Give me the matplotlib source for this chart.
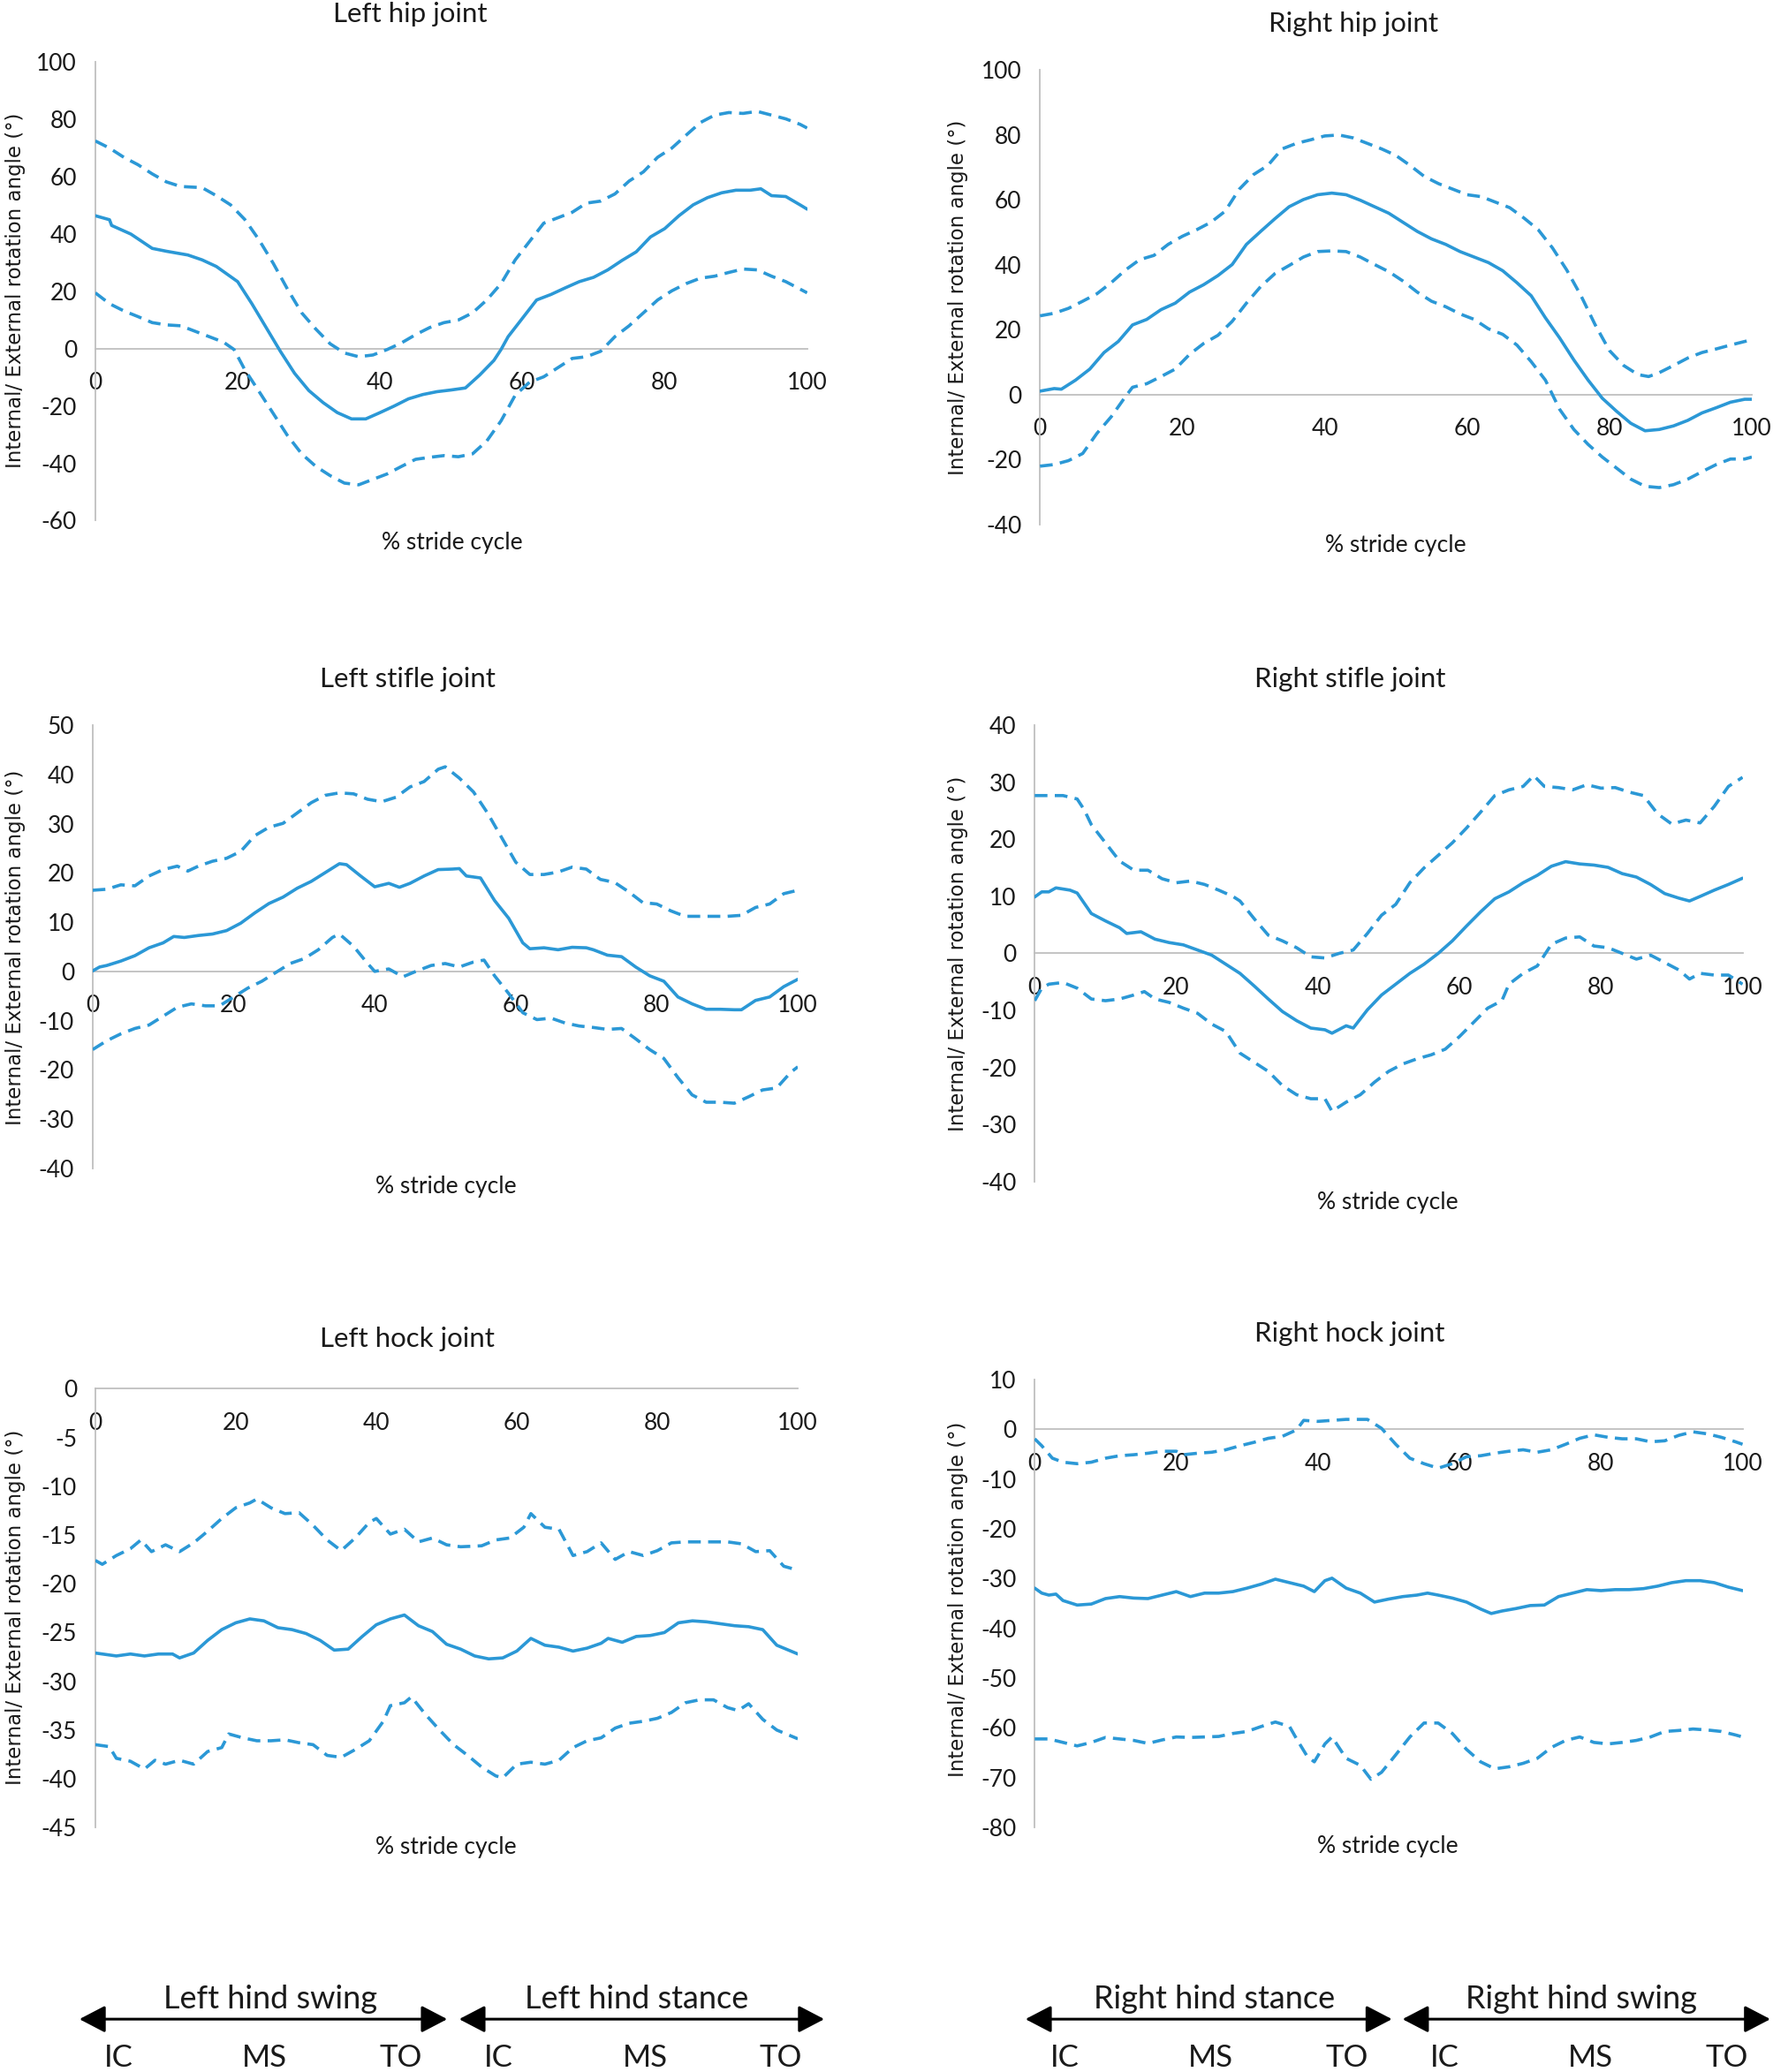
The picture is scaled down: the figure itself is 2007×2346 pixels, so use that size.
import matplotlib
matplotlib.use("Agg")
import matplotlib.pyplot as plt
import numpy as np

# ---------------- DATA ----------------
# Left hip joint
lhip_mean_x = [0,2,2.3,5,8,10,13,15,17,20,22,24,26,28,30,32,34,36,38,40,42,44,46,48,50,52,54,56,57,58,60,62,64,66,68,70,72,74,76,78,80,82,84,86,88,90,92,93.5,95,97,99,100]
lhip_mean_y = [46.4,45,43,40,35,34,32.7,31,28.7,23.4,15.7,7.4,-0.9,-8.6,-14.6,-18.8,-22.3,-24.5,-24.5,-22.3,-20,-17.5,-16,-15,-14.4,-13.7,-9.2,-4.1,-0.3,4.2,10.6,17,18.9,21.2,23.4,24.9,27.5,30.8,33.8,39,41.9,46.4,50.2,52.7,54.4,55.3,55.3,55.8,53.4,53.1,50.2,48.7]
lhip_up_x = [0,2,4,6,8,10,12,15,17,19,21,23,25,27,29,31,33,35,37,39,41,43,45,47,49,51,53,55,57,59,61,63,65,67,69,71,73,75,77,79,81,83,85,87,89,91,93,95,97,99,100]
lhip_up_y = [72.5,70,66.8,64.2,61,58.2,56.6,56.2,53.4,50.2,45.1,38,29.8,20.8,12.5,6.8,1.7,-1.5,-2.8,-2.2,-0.3,2,4.9,7.4,9.1,10,12.5,17,22.7,31,37.4,43.8,45.7,47.6,50.8,51.5,54,58.5,61.7,66.8,70,74.5,78.9,81.5,82.4,82.1,82.8,81.5,80.2,78.3,77]
lhip_lo_x = [0,2,4,6,8,10,12,14,16,18,19.5,21,23,25,27,29,31,33,35,37,39,41,43,45,47,49,51,53,55,57,59,61,63,65,67,69,71,73,75,77,79,81,83,85,87,89,91,93,95,97,99,100]
lhip_lo_y = [19.5,15.7,13.2,11.2,9.1,8.3,8,6.1,4.2,2.3,-0.3,-7.3,-14.9,-22.6,-30.3,-36.7,-41.1,-44.3,-46.9,-47.5,-45.6,-43.7,-41.1,-38.6,-37.9,-37.3,-37.7,-36.7,-32.2,-25.2,-16.2,-11.7,-9.8,-6.6,-3.4,-2.8,-0.9,4.2,8,12.5,17,20.2,22.7,24.6,25.3,26.6,27.8,27.5,25.3,23.4,20.8,19.5]

# Right hip joint
rhip_mean_x = [0,2,3,5,7,9,11,13,15,17,19,21,23,25,27,29,31,33,35,37,39,41,43,45,47,49,51,53,55,57,59,61,63,65,67,69,71,73,75,77,79,81,83,85,87,89,91,93,95,97,99,100]
rhip_mean_y = [1.1,1.9,1.7,4.5,7.9,13,16.4,21.5,23.2,26.2,28.2,31.6,33.9,36.7,40.1,46.3,50.3,54.2,57.9,60.1,61.6,62.1,61.6,59.9,57.9,55.9,53.1,50.3,48,46.3,44.1,42.4,40.7,38.2,34.5,30.5,23.7,17.5,10.7,4.5,-1.1,-5.1,-8.8,-11.1,-10.7,-9.6,-7.9,-5.6,-4,-2.3,-1.4,-1.4]
rhip_up_x = [0,2,4,6,8,10,12,14,16,18,20,22,24,26,28,30,32,34,36,38,40,42,44,46,48,50,52,54,56,58,60,62,64,66,68,70,72,74,76,78,80,82,84,85.5,87,89,91,93,95,97,99,100]
rhip_up_y = [24.3,25.1,26.6,28.8,31.1,34.5,38.4,41.6,42.9,46.3,48.8,50.8,53.1,56.5,63.3,67.8,70.6,75.7,77.4,78.5,79.7,80,79.1,77.4,75.7,73.7,70.6,67.2,65,63.3,61.6,61,59.3,57.6,54.4,50.8,45.2,38.4,30.5,21.5,13.6,9,6.2,5.6,6.8,9,11.3,13,14.1,15.3,16.4,16.9]
rhip_lo_x = [0,2,4,6,8,10,12,13,15,17,19,21,23,25,27,29,31,33,35,37,39,41,43,45,47,49,51,53,55,57,59,61,63,65,67,69,71,73,75,77,79,81,83,85,87,89,91,93,95,97,99,100]
rhip_lo_y = [-22,-21.5,-20.3,-18.1,-11.9,-6.8,-0.6,2.3,3.4,5.6,7.9,12.4,15.8,18.3,22.6,28.2,33.3,37.3,39.8,42.4,44.1,44.3,44.1,42.4,40.1,37.9,35,31.6,28.8,27.1,24.9,23.2,20.3,18.6,15.3,10.2,4.5,-4.5,-10.7,-15.3,-19.2,-22.6,-26,-28.2,-28.6,-27.7,-26,-23.7,-21.5,-19.8,-19.8,-19.2]

# Left stifle joint
lsti_mean_x = [0,1,2,4,6,8,10,11.5,13,15,17,19,21,23,25,27,29,31,33,35,36,38,40,42,43.5,45,47,49,51,52,53,55,57,59,61,62,64,66,68,70,71,73,75,77,79,81,83,85,87,89,91,92,94,96,98,100]
lsti_mean_y = [0.1,0.9,1.2,2.1,3.2,4.8,5.8,7.1,6.9,7.3,7.6,8.3,9.8,11.9,13.8,15.1,16.9,18.3,20.1,21.9,21.7,19.4,17.2,17.9,17.1,17.9,19.4,20.7,20.8,20.9,19.4,19,14.4,10.8,5.8,4.6,4.8,4.4,4.9,4.8,4.4,3.3,3,0.9,-0.9,-2,-5.2,-6.6,-7.7,-7.7,-7.8,-7.8,-5.9,-5.2,-3.1,-1.6]
lsti_up_x = [0,2,4,6,8,10,12,13.5,15,17,19,21,23,25,27,29,31,33,35,37,39,41,43,45,47,49,50,52,54,56,58,60,62,64,66,68,70,72,74,76,78,80,82,84,86,88,90,92,94,96,98,100]
lsti_up_y = [16.5,16.7,17.6,17.4,19.4,20.7,21.4,20.4,21.4,22.4,23,24.4,27.6,29.3,30.1,32.2,34.3,35.8,36.3,36.1,35,34.5,35.4,37.5,38.6,41.1,41.6,39.3,36.5,32.2,27.2,22.2,19.7,19.7,20.2,21.2,20.8,18.7,18.1,16.2,14,13.7,12.3,11.2,11.2,11.2,11.2,11.4,13,13.7,15.8,16.5]
lsti_lo_x = [0,2,4,6,8,10,12,14,16,18,20,22,24,26,28,30,32,34,35,37,39,40,42,44,46,48,50,52,54,55.5,57,59,61,63,65,67,69,71,73,75,77,79,81,83,85,87,89,91,93,95,97,99,100]
lsti_lo_y = [-15.9,-14.1,-12.7,-11.6,-10.9,-9.1,-7.3,-6.6,-7,-7,-5.2,-3.4,-2,-0.2,1.6,2.6,4.4,6.9,7.6,5.1,1.6,0,0.5,-1.1,0.1,1.2,1.6,0.9,1.9,2.3,-0.9,-4.5,-8.4,-9.8,-9.5,-10.5,-11.1,-11.4,-11.8,-11.6,-13.7,-15.9,-17.7,-21.6,-25.1,-26.6,-26.6,-26.8,-25.5,-24.1,-23.7,-20.5,-19.4]

# Right stifle joint
rsti_mean_x = [0,1,2,3,5,6,8,10,12,13,15,17,19,21,23,25,27,29,31,33,35,37,39,41,42,44,45,47,49,51,53,55,57,59,61,63,65,67,69,71,73,75,77,79,81,83,85,87,89,91,92.5,94,96,98,100]
rsti_mean_y = [9.9,10.8,10.8,11.5,11.1,10.6,7,5.7,4.5,3.5,3.8,2.5,1.9,1.5,0.6,-0.3,-1.9,-3.5,-5.7,-8,-10.2,-11.8,-13.1,-13.4,-14,-12.7,-13.1,-9.9,-7.3,-5.4,-3.5,-1.9,0,2.2,4.8,7.3,9.6,10.8,12.4,13.7,15.3,16.1,15.7,15.5,15.1,14,13.4,12.1,10.5,9.7,9.2,10,11.1,12.1,13.2]
rsti_up_x = [0,2,4,6,7,8,10,12,14,16,18,20,22,24,26,28,29,31,33,35,37,39,41,43,45,47,49,51,53,55,57,59,61,63,65,67,69,70.5,72,74,76,78,80,82,84,86,88,90,92,94,96,98,100]
rsti_up_y = [27.7,27.7,27.7,27.1,25.2,22.6,19.4,16.2,14.6,14.6,13.1,12.4,12.7,12.1,11.1,10,9.2,6.1,3.2,2.2,1,-0.6,-0.8,0,0.6,3.5,6.7,8.6,12.4,15,17.2,19.4,22,24.8,27.7,28.7,29.3,31.2,29.3,29.1,28.7,29.6,29,29.1,28.3,27.7,24.5,22.7,23.4,22.9,25.8,29.3,30.9]
rsti_lo_x = [0,1,2,4,6,8,10,12,14,15.5,17,19,21,23,25,27,29,31,33,35,37,39,41,42,44,46,48,50,52,54,56,58,60,62,64,66,67,69,71,73,75,77,79,81,83,85,87,89,91,92.5,94,96,98,100]
rsti_lo_y = [-8.3,-6.1,-5.4,-5.1,-6.1,-8,-8.3,-8,-7.3,-6.7,-8,-8.6,-9.6,-10.5,-12.4,-13.7,-17.5,-19.1,-20.7,-23.2,-24.8,-25.5,-25.5,-27.7,-26.1,-24.8,-22.6,-20.7,-19.4,-18.5,-17.8,-16.8,-14.6,-12.1,-9.6,-8.3,-5.4,-3.5,-2.2,1.6,2.7,2.9,1.3,1,0,-1,-0.3,-1.6,-2.9,-4.5,-3.5,-3.8,-3.8,-5.4]

# Left hock joint
lhoc_mean_x = [0,2,3,5,7,9,11,12,14,16,18,20,22,24,26,28,30,32,34,36,38,40,42,44,46,48,50,52,54,56,58,60,62,64,66,68,70,72,73,75,77,79,81,83,85,87,89,91,93,95,97,99,100]
lhoc_mean_y = [-27.1,-27.3,-27.4,-27.2,-27.4,-27.2,-27.2,-27.6,-27.1,-25.8,-24.7,-24,-23.6,-23.8,-24.5,-24.7,-25.1,-25.8,-26.8,-26.7,-25.4,-24.2,-23.6,-23.2,-24.3,-24.9,-26.2,-26.7,-27.4,-27.7,-27.6,-26.9,-25.6,-26.3,-26.5,-26.9,-26.6,-26.1,-25.6,-26,-25.4,-25.3,-25,-24,-23.8,-23.9,-24.1,-24.3,-24.4,-24.7,-26.3,-26.9,-27.2]
lhoc_up_x = [0,1,3,5,6.5,8,10,12,14,16,18,20,22,23,25,27,29,31,33,35,37,39,40,42,44,46,48,50,52,55,57,59,61,62,64,66,68,70,72,74,76,78,80,82,84,86,88,90,92,94,96,98,100]
lhoc_up_y = [-17.6,-18,-17.1,-16.4,-15.5,-16.7,-16,-16.7,-15.8,-14.6,-13.3,-12.2,-11.7,-11.3,-12.2,-12.8,-12.7,-14,-15.5,-16.6,-15.3,-13.7,-13.3,-14.9,-14.4,-15.7,-15.3,-16,-16.2,-16.1,-15.5,-15.3,-14.2,-12.8,-14.2,-14.4,-17.1,-16.7,-15.8,-17.5,-16.7,-17.1,-16.6,-15.8,-15.7,-15.7,-15.7,-15.7,-15.9,-16.7,-16.6,-18.2,-18.6]
lhoc_lo_x = [0,2,3,5,7,8.5,10,12,14,16,18,19,21,23,25,27,29,31,33,35,37,39,41,42,44,45,47,49,51,53,55,57,58,60,62,64,66,68,70,72,74,76,78,80,82,84,86,88,90,91.5,93,95,97,99,100]
lhoc_lo_y = [-36.5,-36.7,-37.9,-38.2,-39,-38.1,-38.5,-38.1,-38.5,-37.2,-36.8,-35.4,-35.8,-36.1,-36.1,-36,-36.3,-36.5,-37.6,-37.8,-37,-36.1,-34.1,-32.5,-32.2,-31.6,-33.4,-35,-36.5,-37.6,-38.8,-39.7,-39.9,-38.5,-38.3,-38.5,-38.1,-36.8,-36.1,-35.8,-34.8,-34.3,-34.1,-33.8,-33.2,-32.2,-31.9,-31.9,-32.7,-33,-32.3,-33.9,-35,-35.6,-35.9]

# Right hock joint
rhoc_mean_x = [0,1,2,3,4,6,8,10,12,14,16,18,20,22,24,26,28,30,32,34,36,38,39.5,41,42,44,46,48,50,52,54,55.5,57,59,61,63,64.5,66,68,70,72,74,76,78,80,82,84,86,88,90,92,94,96,98,100]
rhoc_mean_y = [-31.9,-32.9,-33.3,-33.1,-34.4,-35.3,-35.1,-34,-33.6,-33.9,-34,-33.3,-32.6,-33.6,-32.9,-32.9,-32.6,-31.9,-31.1,-30.1,-30.8,-31.5,-32.6,-30.4,-29.9,-31.9,-32.9,-34.7,-34.1,-33.6,-33.3,-32.9,-33.3,-33.9,-34.7,-36.1,-37,-36.5,-36,-35.4,-35.3,-33.6,-32.9,-32.2,-32.4,-32.2,-32.2,-32,-31.5,-30.8,-30.4,-30.4,-30.8,-31.7,-32.4]
rhoc_up_x = [0,1,2.5,4,6,8,10,12,14,16,18,20,21,23,25,27,29,31,33,35,37,38,40,42,44,46,47,49,51,53,55,57,59,61,63,65,67,69,71,73,75,77,79,81,83,85,87,89,91,93,95,97,99,100]
rhoc_up_y = [-1.9,-3.3,-5.8,-6.6,-6.9,-6.6,-5.8,-5.3,-5.1,-4.8,-4.4,-4.4,-5.1,-4.8,-4.6,-4.1,-3.3,-2.6,-1.8,-1.4,-0.1,1.8,1.6,1.8,2,2,2,0.2,-3,-5.8,-6.9,-7.8,-6.9,-5.5,-5.3,-4.8,-4.4,-4.1,-4.6,-4.1,-3,-1.8,-1.1,-1.6,-1.9,-1.9,-2.5,-2.3,-1.2,-0.5,-0.9,-1.6,-2.5,-3]
rhoc_lo_x = [0,2,4,6,8,10,12,14,16,18,20,22,24,26,28,30,32,34,36,37,38.5,39.5,41,42,44,46,47.5,49,51,53,55,57,59,61,63,65,67,69,71,73,75,77,79,81,83,85,87,89,91,93,95,97,99,100]
rhoc_lo_y = [-62.2,-62.2,-62.9,-63.6,-62.9,-61.9,-62.2,-62.5,-63.1,-62.4,-61.8,-61.9,-61.8,-61.7,-61.1,-60.7,-59.7,-58.8,-59.7,-62.2,-65.7,-66.8,-63.2,-61.8,-66.1,-67.5,-70.3,-68.9,-65.4,-61.8,-59,-59,-61.1,-64.3,-66.8,-68.2,-67.8,-67.1,-66.1,-63.9,-62.5,-61.8,-62.9,-63.2,-62.9,-62.5,-61.8,-60.7,-60.5,-60.2,-60.4,-60.7,-61.4,-61.8]

titles = ["Left hip joint", "Right hip joint", "Left stifle joint",
          "Right stifle joint", "Left hock joint", "Right hock joint"]
ylims = [(-60, 100), (-40, 100), (-40, 50), (-40, 40), (-45, 0), (-80, 10)]
ysteps = [20, 20, 10, 10, 5, 10]
xticks = [0, 20, 40, 60, 80, 100]
ylabel_text = "Internal/ External rotation angle (°)"
xlabel_text = "% stride cycle"

phase_labels = ["Left hind swing", "Left hind stance", "Right hind stance", "Right hind swing"]
event_labels = ["IC", "MS", "TO"]

# ---------------- LAYOUT ----------------
W, H = 1340.0, 1568.0  # reference layout units
def fx(x): return x / W
def fy(y): return 1 - y / H

# axes boxes (left, right, top, bottom) in layout units
boxes = [(72, 610, 47, 394), (786, 1324, 53, 397),
         (70, 603, 549, 884), (782, 1317, 549, 894),
         (72, 603, 1051, 1383), (782, 1317, 1044, 1383)]
title_pos = [(310, 11), (1023, 18), (308, 514), (1020, 514), (308, 1013), (1020, 1009)]
xlabel_pos = [(342, 411), (1055, 413), (337, 898), (1049, 910), (337, 1398), (1049, 1397)]
ylabel_pos = [(12, 220), (724, 225), (12, 717), (724, 722), (12, 1216), (724, 1210)]

series = [
    (lhip_mean_x, lhip_mean_y, lhip_up_x, lhip_up_y, lhip_lo_x, lhip_lo_y),
    (rhip_mean_x, rhip_mean_y, rhip_up_x, rhip_up_y, rhip_lo_x, rhip_lo_y),
    (lsti_mean_x, lsti_mean_y, lsti_up_x, lsti_up_y, lsti_lo_x, lsti_lo_y),
    (rsti_mean_x, rsti_mean_y, rsti_up_x, rsti_up_y, rsti_lo_x, rsti_lo_y),
    (lhoc_mean_x, lhoc_mean_y, lhoc_up_x, lhoc_up_y, lhoc_lo_x, lhoc_lo_y),
    (rhoc_mean_x, rhoc_mean_y, rhoc_up_x, rhoc_up_y, rhoc_lo_x, rhoc_lo_y),
]

FONT = ["Lato", "DejaVu Sans"]
plt.rcParams['font.family'] = FONT
plt.rcParams['axes.unicode_minus'] = False
BLUE = "#2B98D6"
GREY = "#BFBFBF"
TXT = "#1a1a1a"

fig = plt.figure(figsize=(20.07, 23.46), dpi=100)
fig.patch.set_facecolor("white")

for i, (l, r, t, b) in enumerate(boxes):
    ax = fig.add_axes([fx(l), fy(b), fx(r) - fx(l), fy(t) - fy(b)])
    mx, my, ux, uy, lx, ly = series[i]
    ax.plot(mx, my, color=BLUE, lw=2.6, solid_capstyle='round', zorder=3)
    ax.plot(ux, uy, color=BLUE, lw=2.6, dashes=(4.0, 2.3), zorder=3)
    ax.plot(lx, ly, color=BLUE, lw=2.6, dashes=(4.0, 2.3), zorder=3)
    lo, hi = ylims[i]
    ax.set_xlim(0, 100)
    ax.set_ylim(lo, hi)
    ax.set_yticks(np.arange(lo, hi + 0.1, ysteps[i]))
    ax.set_xticks(xticks)
    for s in ['top', 'right']:
        ax.spines[s].set_visible(False)
    ax.spines['left'].set_color(GREY)
    ax.spines['left'].set_linewidth(1.3)
    ax.spines['bottom'].set_position(('data', 0))
    ax.spines['bottom'].set_color(GREY)
    ax.spines['bottom'].set_linewidth(1.3)
    ax.tick_params(axis='both', length=0, labelsize=19, colors=TXT)
    ax.tick_params(axis='y', pad=15)
    ax.tick_params(axis='x', pad=19)
    ax.set_facecolor('none')
    for lab in ax.get_xticklabels():
        lab.set_zorder(2)

    tx, ty = title_pos[i]
    fig.text(fx(tx), fy(ty), titles[i], ha='center', va='center', fontsize=22.5, color=TXT)
    xx, xy = xlabel_pos[i]
    fig.text(fx(xx), fy(xy), xlabel_text, ha='center', va='center', fontsize=19, color=TXT)
    yx, yy = ylabel_pos[i]
    fig.text(fx(yx), fy(yy), ylabel_text, ha='center', va='center', rotation=90,
             fontsize=16.5, color=TXT, family=["DejaVu Sans"])

# ---------------- bottom phase arrows ----------------
arrows = [(60, 338), (347, 623), (775, 1052), (1060, 1338)]
arrow_y = 1528
phase_x = [204, 481, 918, 1195]
event_x = [(90, 200, 303), (377, 488, 590), (805, 915, 1018), (1092, 1202, 1305)]

for (x0, x1), label, px, ex in zip(arrows, phase_labels, phase_x, event_x):
    fig.add_artist(matplotlib.patches.FancyArrowPatch(
        (fx(x0), fy(arrow_y)), (fx(x1), fy(arrow_y)), transform=fig.transFigure,
        arrowstyle=matplotlib.patches.ArrowStyle('<|-|>', head_length=0.9, head_width=0.47),
        mutation_scale=20, color='black', lw=2.2, shrinkA=0, shrinkB=0))
    fig.text(fx(px), fy(1513), label, ha='center', va='center', fontsize=26, color=TXT)
    for e, x in zip(event_labels, ex):
        fig.text(fx(x), fy(1557), e, ha='center', va='center', fontsize=25, color=TXT)

fig.savefig("out.png", dpi=100, facecolor="white")
